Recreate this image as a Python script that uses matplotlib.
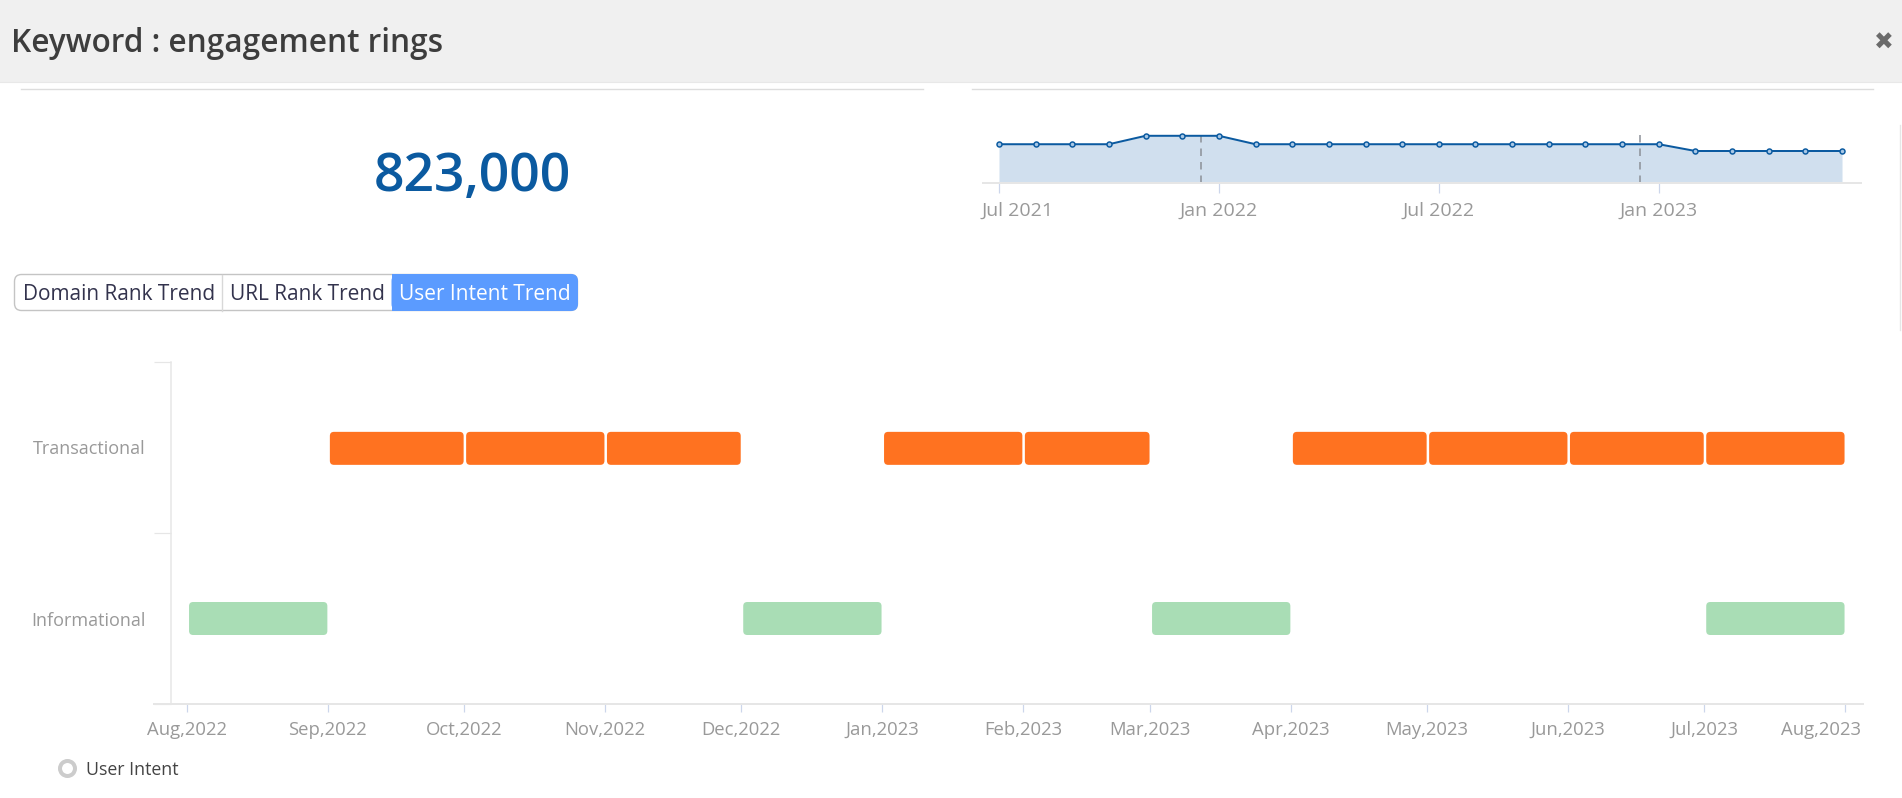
import matplotlib
matplotlib.use("Agg")
import matplotlib.pyplot as plt
import matplotlib.dates as mdates
from matplotlib.patches import FancyBboxPatch, Rectangle
from matplotlib.transforms import ScaledTranslation
from datetime import datetime

plt.rcParams['font.family'] = ['Open Sans', 'DejaVu Sans']

W, H = 1902, 798

# Data
title = "Keyword : engagement rings"
volume_label = "823,000"
volume_months = ["Jul 2021", "Aug 2021", "Sep 2021", "Oct 2021", "Nov 2021", "Dec 2021",
                 "Jan 2022", "Feb 2022", "Mar 2022", "Apr 2022", "May 2022", "Jun 2022",
                 "Jul 2022", "Aug 2022", "Sep 2022", "Oct 2022", "Nov 2022", "Dec 2022",
                 "Jan 2023", "Feb 2023", "Mar 2023", "Apr 2023", "May 2023", "Jun 2023"]
volume_values = [1000000, 1000000, 1000000, 1000000, 1220000, 1220000,
                 1220000, 1000000, 1000000, 1000000, 1000000, 1000000,
                 1000000, 1000000, 1000000, 1000000, 1000000, 1000000,
                 1000000, 823000, 823000, 823000, 823000, 823000]
volume_ticks = ["Jul 2021", "Jan 2022", "Jul 2022", "Jan 2023"]
year_breaks = [5.5, 17.5]

buttons = ["Domain Rank Trend", "URL Rank Trend", "User Intent Trend"]
intent_labels = ["Informational", "Transactional"]
month_ticks = ["2022-08", "2022-09", "2022-10", "2022-11", "2022-12", "2023-01", "2023-02",
               "2023-03", "2023-04", "2023-05", "2023-06", "2023-07", "2023-08"]
transactional = [("2022-09", "2022-10"), ("2022-10", "2022-11"), ("2022-11", "2022-12"),
                 ("2023-01", "2023-02"), ("2023-02", "2023-03"), ("2023-04", "2023-05"),
                 ("2023-05", "2023-06"), ("2023-06", "2023-07"), ("2023-07", "2023-08")]
informational = [("2022-08", "2022-09"), ("2022-12", "2023-01"), ("2023-03", "2023-04"),
                 ("2023-07", "2023-08")]

AXIS = "#e6e6e6"
TICK = "#ccd6eb"
LABEL = "#999999"
BLUE = "#0b5aa0"


def px_axes(x0, y0, x1, y1):
    a = fig.add_axes([x0 / W, 1 - y1 / H, (x1 - x0) / W, (y1 - y0) / H])
    a.patch.set_alpha(0)
    return a


def pt(px):
    return px * 0.72


def month_num(s):
    return mdates.date2num(datetime.strptime(s, "%Y-%m"))


def shift_label(label, dx):
    label.set_transform(label.get_transform() + ScaledTranslation(dx / 100, 0, fig.dpi_scale_trans))


fig = plt.figure(figsize=(W / 100, H / 100), dpi=100, facecolor="white")

# page furniture, in pixel coordinates
bg = fig.add_axes([0, 0, 1, 1])
bg.set_xlim(0, W)
bg.set_ylim(H, 0)
bg.axis("off")
bg.add_patch(Rectangle((0, 0), W, 82, fc="#f0f0f0", ec="none"))
bg.plot([0, W], [82, 82], color="#e8e8e8", lw=0.8)
bg.text(11, 44, title, fontsize=22.7, fontweight=600, color="#3d3d3d", va="center")
bg.text(1884, 43, "\u2716", fontsize=17, color="#6b6b6b", ha="center", va="center",
        family="DejaVu Sans")
bg.plot([21, 923], [89, 89], color="#dddddd", lw=1)
bg.plot([972, 1873], [89, 89], color="#dddddd", lw=1)
bg.plot([1900, 1900], [125, 330], color="#e6e6e6", lw=1)
bg.text(472, 177, volume_label, fontsize=38.5, fontweight=600, color=BLUE, ha="center", va="center")

# button group
bg.add_patch(FancyBboxPatch((14.5, 274.5), 563, 36, boxstyle="round,pad=0,rounding_size=7",
                            fc="white", ec="#c4c4c4", lw=1))
active = FancyBboxPatch((391.5, 274), 186.5, 37, boxstyle="round,pad=0,rounding_size=7",
                        fc="#5b9bff", ec="none")
bg.add_patch(active)
bg.add_patch(Rectangle((391.5, 274), 10, 37, fc="#5b9bff", ec="none"))
bg.plot([221.5, 221.5], [274.5, 310.5], color="#d8d8d8", lw=1)
bg.text(119, 294.5, buttons[0], fontsize=15, color="#33334d", ha="center", va="center")
bg.text(307, 294.5, buttons[1], fontsize=15, color="#33334d", ha="center", va="center")
bg.text(485, 294.5, buttons[2], fontsize=15, color="white", ha="center", va="center")

# legend
bg.plot([67], [768], "o", ms=pt(15), mfc="white", mec="#cccccc", mew=pt(4))
bg.text(86, 770, "User Intent", fontsize=12.8, color="#444444", va="center")

# search volume sparkline
ax = px_axes(983, 125, 1861, 182.5)
xs = list(range(len(volume_values)))
ax.fill_between(xs, volume_values, 0, color="#d0dfee", lw=0)
ax.plot(xs, volume_values, color=BLUE, lw=pt(2), marker="o", ms=pt(5), mfc="#a9c8e6", mec=BLUE, mew=pt(1.5))
for b in year_breaks:
    ax.plot([b, b], [0, 1300000], color="#8a8f96", lw=pt(1.5), dashes=(5, 4), zorder=1.5)
ax.set_xlim(-16 / 36.7, 23 + 19 / 36.7)
ax.set_ylim(0, 57.5 * 26127)
ax.set_xticks([volume_months.index(t) for t in volume_ticks])
ax.set_xticklabels(volume_ticks, fontsize=14, color=LABEL)
ax.tick_params(axis="x", length=pt(10), width=pt(1.2), color=TICK, pad=pt(9))
ax.set_yticks([])
for s in ["top", "left", "right"]:
    ax.spines[s].set_visible(False)
ax.spines["bottom"].set_color(AXIS)
ax.spines["bottom"].set_linewidth(pt(2))
shift_label(ax.get_xticklabels()[0], 19)

# user intent timeline
ax2 = px_axes(154, 362, 1863, 704)
d0 = month_num(month_ticks[0])
d1 = month_num(month_ticks[-1])
days_per_px = (d1 - d0) / (1845 - 187)
ax2.set_xlim(d0 - 33 * days_per_px, d1 + 18 * days_per_px)
ax2.set_ylim(0, 2)
aspect = (2 / 342) / days_per_px


def draw_bars(periods, row, color):
    for start, end in periods:
        a = month_num(start) + 0.45
        b = month_num(end) - 0.1
        ax2.add_patch(FancyBboxPatch((a, row - 33 / 342), b - a, 66 / 342,
                                     boxstyle="round,pad=0,rounding_size=0.9",
                                     mutation_aspect=aspect, fc=color, ec="none"))


draw_bars(informational, 0.5, "#a9ddb5")
draw_bars(transactional, 1.495, "#ff7220")

ax2.set_xticks([month_num(m) for m in month_ticks])
ax2.set_xticklabels([datetime.strptime(m, "%Y-%m").strftime("%b,%Y") for m in month_ticks],
                    fontsize=13.3, color=LABEL)
ax2.tick_params(axis="x", length=pt(8), width=pt(1.2), color=TICK, pad=pt(9))
ax2.spines["left"].set_position(("data", d0 - 16 * days_per_px))
ax2.set_yticks([0.5, 1.5])
ax2.set_yticklabels(intent_labels, fontsize=13, color=LABEL, va="center")
ax2.set_yticks([0, 1, 2], minor=True)
ax2.tick_params(axis="y", which="major", length=0, pad=pt(25))
ax2.tick_params(axis="y", which="minor", length=pt(17), width=pt(1.2), color=AXIS)
for lab in ax2.get_yticklabels():
    lab.set_transform(lab.get_transform() + ScaledTranslation(0, -2 / 100, fig.dpi_scale_trans))
for s in ["top", "right"]:
    ax2.spines[s].set_visible(False)
ax2.spines["left"].set_color(AXIS)
ax2.spines["left"].set_linewidth(pt(1.5))
ax2.spines["bottom"].set_color(AXIS)
ax2.spines["bottom"].set_linewidth(pt(2))
shift_label(ax2.get_xticklabels()[-1], -24)

fig.savefig("out.png", dpi=100)
